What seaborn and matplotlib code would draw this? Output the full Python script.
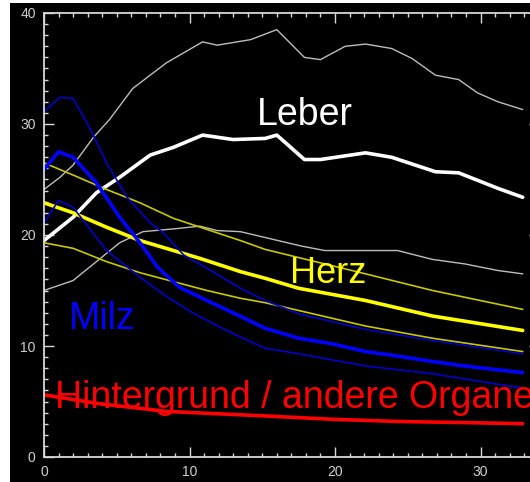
import numpy as np
import pandas as pd
import matplotlib
matplotlib.use("Agg")
import matplotlib.pyplot as plt
from matplotlib.patches import Rectangle
from matplotlib.ticker import MultipleLocator
import seaborn as sns

# ---- data ----
leber_hi_x = [0, 1.1, 2.0, 3.4, 4.5, 6.1, 8.4, 10.9, 11.9, 14.2, 16.0, 17.9, 19.0, 20.7, 22.1, 23.9, 25.3, 26.9, 28.5, 29.8, 31.2, 32.9]
leber_hi_y = [24.1, 25.2, 26.3, 28.8, 30.4, 33.2, 35.5, 37.4, 37.1, 37.6, 38.5, 36.0, 35.8, 37.0, 37.2, 36.8, 35.9, 34.4, 34.0, 32.8, 32.0, 31.3]

leber_mid_x = [0, 2.0, 3.6, 5.2, 7.3, 8.9, 10.9, 13.0, 15.2, 16.0, 17.9, 19.0, 22.1, 23.9, 26.9, 28.5, 31.2, 32.9]
leber_mid_y = [19.5, 21.6, 23.8, 25.2, 27.2, 27.9, 29.0, 28.6, 28.7, 29.0, 26.8, 26.8, 27.4, 27.0, 25.7, 25.6, 24.2, 23.4]

leber_lo_x = [0, 2.0, 3.6, 5.2, 6.8, 9.3, 10.7, 11.9, 13.5, 17.7, 19.3, 24.3, 26.7, 28.9, 31.2, 32.9]
leber_lo_y = [15.0, 15.9, 17.6, 19.3, 20.3, 20.6, 20.8, 20.4, 20.3, 19.0, 18.6, 18.6, 17.8, 17.4, 16.8, 16.5]

herz_hi_x = [0, 2.0, 4.3, 6.6, 8.9, 11.2, 13.5, 15.2, 22.1, 26.7, 32.9]
herz_hi_y = [26.5, 25.4, 24.1, 22.9, 21.5, 20.5, 19.5, 18.7, 16.5, 15.0, 13.3]

herz_mid_x = [0, 2.0, 4.3, 6.6, 8.9, 10.7, 13.5, 15.2, 17.5, 22.1, 26.7, 32.9]
herz_mid_y = [22.9, 22.0, 20.7, 19.5, 18.6, 17.9, 16.7, 16.1, 15.2, 14.1, 12.7, 11.4]

herz_lo_x = [0, 2.0, 4.3, 6.6, 8.9, 11.2, 13.5, 15.2, 17.5, 22.1, 26.7, 32.9]
herz_lo_y = [19.3, 18.8, 17.6, 16.6, 15.8, 15.0, 14.3, 13.9, 13.2, 11.8, 10.7, 9.5]

milz_hi_x = [0, 1.1, 2.0, 3.2, 4.3, 5.7, 7.3, 8.2, 9.6, 11.6, 13.5, 15.2, 17.5, 22.1, 26.7, 32.9]
milz_hi_y = [31.1, 32.4, 32.3, 29.5, 26.5, 23.4, 21.1, 20.2, 18.2, 16.7, 15.2, 14.1, 12.9, 11.5, 10.5, 9.3]

milz_mid_x = [0, 1.0, 2.0, 3.6, 5.2, 6.6, 7.8, 9.3, 11.2, 13.3, 15.2, 17.5, 19.8, 22.1, 24.3, 26.7, 28.9, 32.9]
milz_mid_y = [25.9, 27.5, 27.0, 24.7, 21.6, 19.3, 17.1, 15.3, 14.1, 12.8, 11.6, 10.7, 10.2, 9.5, 9.1, 8.6, 8.2, 7.6]

milz_lo_x = [0, 1.0, 2.0, 2.7, 4.3, 6.6, 8.5, 10.2, 12.1, 13.5, 15.2, 17.5, 22.1, 26.7, 32.9]
milz_lo_y = [21.1, 23.1, 22.5, 21.3, 18.6, 16.2, 14.4, 13.0, 11.7, 10.8, 9.8, 9.3, 8.2, 7.5, 6.2]

bg_x = [0, 3.8, 8.5, 15.2, 19.8, 24.3, 28.9, 32.9]
bg_y = [5.6, 4.8, 4.1, 3.7, 3.4, 3.2, 3.1, 3.0]

x_ticks = [0, 10, 20, 30]
y_ticks = [0, 10, 20, 30, 40]

series = [
    (leber_hi_x, leber_hi_y, "#bdbdbd", 1.0),
    (leber_lo_x, leber_lo_y, "#bdbdbd", 1.0),
    (leber_mid_x, leber_mid_y, "#ffffff", 2.6),
    (herz_hi_x, herz_hi_y, "#c8c800", 1.2),
    (herz_lo_x, herz_lo_y, "#c8c800", 1.2),
    (herz_mid_x, herz_mid_y, "#ffff00", 2.6),
    (milz_hi_x, milz_hi_y, "#0000c8", 1.2),
    (milz_lo_x, milz_lo_y, "#0000c8", 1.2),
    (milz_mid_x, milz_mid_y, "#0000ff", 2.6),
    (bg_x, bg_y, "#ff0000", 2.6),
]

sns.set_theme(style="ticks")
plt.rcParams["font.family"] = ["Liberation Sans", "DejaVu Sans"]

fig = plt.figure(figsize=(5.30, 4.82), dpi=100)
fig.patch.set_facecolor("white")
fig.patches.append(Rectangle((10 / 530, 0), 1, 1 - 3 / 482, transform=fig.transFigure,
                             facecolor="black", edgecolor="none", zorder=-10))

ax = fig.add_axes([44 / 530, 25 / 482, 34 * 14.55 / 530, 444 / 482])
ax.set_facecolor("black")

for xs, ys, col, lw in series:
    df = pd.DataFrame({"x": xs, "y": ys})
    sns.lineplot(data=df, x="x", y="y", ax=ax, color=col, linewidth=lw,
                 estimator=None, sort=False)

ax.set_xlim(0, 34)
ax.set_ylim(0, 40)
ax.set_xticks(x_ticks)
ax.set_yticks(y_ticks)
ax.xaxis.set_minor_locator(MultipleLocator(1))
ax.yaxis.set_minor_locator(MultipleLocator(1))
ax.set_xlabel("")
ax.set_ylabel("")

axc = "#d8d8d8"
for s in ax.spines.values():
    s.set_color(axc)
    s.set_linewidth(1.3)
ax.tick_params(which="both", direction="in", colors=axc, top=True, right=True,
               labelsize=10, width=1.0)
ax.tick_params(which="major", length=7, pad=6)
ax.tick_params(which="minor", length=3)
for lab in ax.get_xticklabels() + ax.get_yticklabels():
    lab.set_color("#cfcfcf")

fam = ["Liberation Sans", "DejaVu Sans"]
ax.text(14.6, 29.9, "Leber", color="white", ha="left", va="baseline", fontsize=27, family=fam)
ax.text(16.9, 15.7, "Herz", color="#ffff00", ha="left", va="baseline", fontsize=26, family=fam)
ax.text(1.7, 11.5, "Milz", color="#0000ff", ha="left", va="baseline", fontsize=27, family=fam)
ax.text(0.76, 4.4, "Hintergrund / andere Organe", color="#ff0000", ha="left",
        va="baseline", clip_on=False, fontsize=27, family=fam)

fig.savefig("out.png", dpi=100, facecolor=fig.get_facecolor())
